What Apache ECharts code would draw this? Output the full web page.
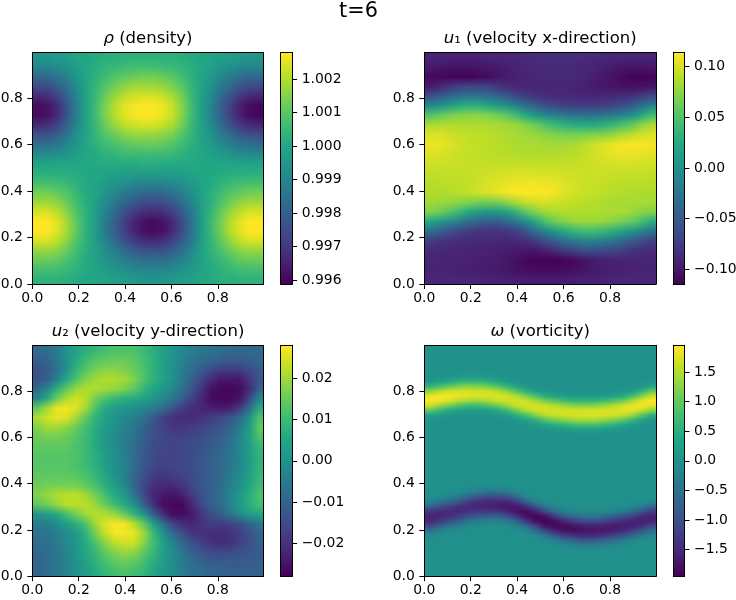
<!DOCTYPE html>
<html><head><meta charset="utf-8">
<style>html,body{margin:0;padding:0;background:#fff}#c{width:736px;height:600px}</style>
<script src="https://cdn.jsdelivr.net/npm/echarts@6/dist/echarts.min.js"></script>
</head><body><div id="c"></div>
<script>
// All field rows run from the top of the picture to the bottom, cells left to right.
const xTicks = [0, 0.2, 0.4, 0.6, 0.8];
const rhoTicks = [0.996, 0.997, 0.998, 0.999, 1.000, 1.001, 1.002];
const u1Ticks = [-0.10, -0.05, 0, 0.05, 0.10];
const u2Ticks = [-0.02, -0.01, 0, 0.01, 0.02];
const omegaTicks = [-1.5, -1.0, -0.5, 0, 0.5, 1.0, 1.5];
const rhoRange = [0.99588, 1.0028];
const u1Range = [-0.1145, 0.1142];
const u2Range = [-0.0279, 0.0279];
const omegaRange = [-1.95, 1.95];

const rhoRows = [
[.9995,.9995,.9996,.9997,.9999,1,1.0001,1.0002,1.0002,1.0003,1.0003,1.0003,1.0003,1.0003,1.0003,1.0002,1.0001,1,.9999,.9998,.9997,.9996,.9995,.9995],
[.9990,.9990,.9992,.9994,.9997,1,1.0002,1.0004,1.0005,1.0006,1.0007,1.0007,1.0007,1.0006,1.0005,1.0004,1.0002,1,.9998,.9995,.9993,.9991,.9990,.9990],
[.9982,.9983,.9985,.9989,.9995,.9999,1.0003,1.0006,1.0009,1.0011,1.0012,1.0013,1.0013,1.0012,1.0010,1.0007,1.0003,.9999,.9996,.9991,.9987,.9984,.9982,.9982],
[.9975,.9975,.9979,.9984,.9992,.9999,1.0004,1.0009,1.0013,1.0016,1.0018,1.0018,1.0018,1.0017,1.0014,1.0010,1.0004,.9999,.9994,.9987,.9982,.9977,.9975,.9974],
[.9967,.9968,.9972,.9980,.9990,.9998,1.0005,1.0012,1.0017,1.0021,1.0023,1.0024,1.0024,1.0022,1.0019,1.0013,1.0005,.9998,.9992,.9983,.9976,.9970,.9967,.9966],
[.9961,.9962,.9967,.9976,.9988,.9998,1.0006,1.0014,1.0020,1.0025,1.0027,1.0028,1.0028,1.0026,1.0022,1.0015,1.0006,.9998,.9990,.9980,.9972,.9965,.9961,.9960],
[.9961,.9962,.9967,.9976,.9988,.9998,1.0006,1.0014,1.0020,1.0025,1.0027,1.0028,1.0028,1.0026,1.0022,1.0015,1.0006,.9998,.9990,.9980,.9972,.9965,.9961,.9960],
[.9967,.9968,.9972,.9980,.9990,.9998,1.0005,1.0012,1.0017,1.0021,1.0023,1.0024,1.0024,1.0022,1.0019,1.0013,1.0005,.9998,.9992,.9983,.9976,.9970,.9967,.9966],
[.9976,.9976,.9980,.9985,.9993,.9999,1.0004,1.0009,1.0012,1.0015,1.0017,1.0017,1.0017,1.0016,1.0014,1.0009,1.0004,.9999,.9994,.9988,.9983,.9978,.9976,.9975],
[.9984,.9984,.9986,.9990,.9995,.9999,1.0003,1.0006,1.0008,1.0010,1.0011,1.0012,1.0012,1.0011,1.0009,1.0006,1.0003,.9999,.9996,.9992,.9988,.9985,.9984,.9983],
[.9991,.9992,.9993,.9995,.9997,1,1.0001,1.0003,1.0004,1.0006,1.0006,1.0006,1.0006,1.0006,1.0005,1.0003,1.0001,1,.9998,.9996,.9994,.9992,.9991,.9991],
[.9999,.9999,.9999,1,1,1.0001,1.0001,1.0001,1.0001,1.0001,1.0001,1.0002,1.0002,1.0001,1.0001,1.0001,1.0001,1,1,1,.9999,.9999,.9999,.9999],
[1.0002,1.0002,1.0002,1.0002,1.0001,1,1,.9999,.9998,.9998,.9997,.9997,.9997,.9997,.9997,.9998,.9999,1,1,1.0001,1.0002,1.0002,1.0002,1.0002],
[1.0007,1.0007,1.0006,1.0005,1.0003,1.0001,.9999,.9997,.9995,.9993,.9991,.9990,.9990,.9990,.9992,.9994,.9996,.9999,1.0001,1.0003,1.0005,1.0006,1.0007,1.0007],
[1.0013,1.0013,1.0011,1.0009,1.0005,1.0001,.9999,.9995,.9991,.9987,.9985,.9983,.9982,.9983,.9985,.9989,.9993,.9998,1.0002,1.0006,1.0009,1.0011,1.0013,1.0013],
[1.0018,1.0018,1.0016,1.0012,1.0007,1.0002,.9998,.9992,.9987,.9982,.9978,.9975,.9975,.9975,.9979,.9984,.9990,.9997,1.0003,1.0008,1.0013,1.0016,1.0018,1.0018],
[1.0024,1.0024,1.0021,1.0016,1.0009,1.0003,.9997,.9990,.9983,.9976,.9971,.9968,.9967,.9968,.9972,.9979,.9987,.9997,1.0004,1.0011,1.0017,1.0021,1.0024,1.0024],
[1.0028,1.0028,1.0025,1.0019,1.0011,1.0003,.9997,.9988,.9980,.9972,.9966,.9962,.9961,.9962,.9967,.9975,.9985,.9996,1.0005,1.0013,1.0020,1.0025,1.0028,1.0028],
[1.0028,1.0028,1.0025,1.0019,1.0011,1.0003,.9997,.9988,.9980,.9972,.9966,.9962,.9961,.9962,.9967,.9975,.9985,.9996,1.0005,1.0013,1.0020,1.0025,1.0028,1.0028],
[1.0024,1.0024,1.0021,1.0016,1.0009,1.0003,.9997,.9990,.9983,.9976,.9971,.9968,.9967,.9968,.9972,.9979,.9987,.9997,1.0004,1.0011,1.0017,1.0021,1.0024,1.0024],
[1.0017,1.0017,1.0016,1.0012,1.0007,1.0002,.9998,.9993,.9988,.9983,.9979,.9976,.9976,.9976,.9980,.9984,.9991,.9998,1.0003,1.0008,1.0012,1.0016,1.0017,1.0017],
[1.0012,1.0012,1.0011,1.0008,1.0005,1.0001,.9999,.9995,.9992,.9988,.9986,.9984,.9984,.9984,.9986,.9989,.9994,.9998,1.0002,1.0005,1.0008,1.0011,1.0012,1.0012],
[1.0007,1.0007,1.0006,1.0005,1.0003,1.0001,.9999,.9997,.9995,.9993,.9991,.9990,.9990,.9990,.9992,.9994,.9996,.9999,1.0001,1.0003,1.0005,1.0006,1.0007,1.0007],
[1.0003,1.0003,1.0003,1.0002,1.0001,1,1,.9999,.9998,.9997,.9996,.9995,.9995,.9995,.9996,.9997,.9998,1,1.0001,1.0002,1.0002,1.0003,1.0003,1.0003]
];

const u1Rows = [
[-.092,-.092,-.092,-.092,-.092,-.092,-.091,-.09,-.089,-.088,-.087,-.086,-.085,-.085,-.085,-.086,-.086,-.087,-.088,-.089,-.09,-.09,-.091,-.091],
[-.098,-.1,-.102,-.103,-.103,-.102,-.1,-.098,-.095,-.092,-.09,-.088,-.087,-.087,-.087,-.088,-.09,-.092,-.095,-.098,-.1,-.102,-.102,-.1],
[-.108,-.11,-.112,-.113,-.113,-.11,-.107,-.103,-.098,-.094,-.091,-.089,-.088,-.088,-.088,-.089,-.091,-.094,-.098,-.103,-.108,-.112,-.113,-.111],
[-.098,-.09,-.08,-.072,-.068,-.068,-.07,-.078,-.085,-.09,-.09,-.09,-.09,-.09,-.09,-.092,-.094,-.098,-.1,-.102,-.105,-.105,-.105,-.102],
[-.06,-.05,-.04,-.03,-.026,-.026,-.03,-.04,-.052,-.066,-.074,-.08,-.085,-.087,-.088,-.089,-.09,-.09,-.09,-.088,-.086,-.082,-.074,-.065],
[-.006,0,.012,.024,.03,.03,.024,.012,0,-.015,-.03,-.045,-.059,-.065,-.07,-.072,-.073,-.073,-.071,-.067,-.06,-.05,-.03,-.014],
[.052,.058,.066,.071,.074,.074,.071,.066,.056,.042,.024,.006,-.007,-.015,-.02,-.026,-.028,-.028,-.023,-.018,-.01,0,.024,.044],
[.085,.087,.088,.087,.087,.087,.086,.084,.082,.079,.072,.062,.05,.04,.032,.028,.026,.026,.03,.038,.048,.058,.075,.086],
[.102,.102,.098,.095,.093,.091,.09,.088,.086,.084,.082,.078,.074,.07,.068,.066,.068,.07,.072,.078,.085,.092,.098,.102],
[.108,.107,.103,.098,.095,.093,.091,.09,.088,.086,.085,.084,.083,.082,.083,.085,.09,.096,.103,.108,.111,.112,.112,.11],
[.103,.102,.099,.096,.094,.092,.091,.09,.089,.088,.087,.087,.087,.087,.088,.09,.093,.098,.102,.106,.108,.108,.107,.105],
[.097,.097,.096,.095,.094,.094,.094,.094,.094,.094,.094,.093,.093,.093,.093,.094,.095,.097,.099,.1,.101,.1,.099,.098],
[.093,.093,.093,.093,.094,.095,.097,.099,.1,.101,.101,.101,.1,.099,.098,.097,.096,.096,.096,.095,.095,.094,.094,.093],
[.09,.09,.091,.092,.094,.097,.101,.104,.107,.109,.11,.11,.109,.107,.103,.1,.097,.095,.094,.092,.091,.09,.09,.09],
[.087,.087,.088,.09,.093,.097,.102,.107,.11,.113,.114,.114,.113,.11,.104,.099,.096,.093,.091,.089,.088,.087,.086,.086],
[.082,.08,.078,.075,.07,.066,.064,.066,.074,.085,.093,.098,.1,.098,.095,.092,.09,.088,.086,.085,.084,.084,.084,.083],
[.07,.064,.054,.042,.024,.013,.007,.006,.015,.034,.056,.072,.082,.086,.088,.088,.087,.086,.086,.085,.084,.08,.073,.072],
[.024,.009,-.004,-.015,-.03,-.04,-.046,-.047,-.038,-.022,-.002,.024,.048,.063,.072,.077,.08,.08,.077,.073,.067,.06,.046,.027],
[-.03,-.044,-.056,-.066,-.074,-.078,-.08,-.08,-.077,-.07,-.054,-.03,-.01,.007,.024,.036,.043,.043,.037,.028,.016,.002,-.012,-.028],
[-.074,-.079,-.083,-.085,-.087,-.088,-.088,-.089,-.09,-.088,-.084,-.075,-.06,-.044,-.03,-.02,-.014,-.014,-.018,-.026,-.036,-.049,-.061,-.072],
[-.088,-.089,-.09,-.091,-.092,-.092,-.093,-.094,-.096,-.098,-.1,-.1,-.094,-.086,-.076,-.068,-.062,-.06,-.062,-.068,-.074,-.08,-.084,-.086],
[-.091,-.091,-.092,-.092,-.093,-.094,-.095,-.097,-.1,-.105,-.11,-.113,-.114,-.114,-.112,-.108,-.102,-.097,-.094,-.092,-.091,-.09,-.09,-.09],
[-.092,-.093,-.093,-.094,-.095,-.096,-.097,-.099,-.101,-.104,-.106,-.107,-.108,-.108,-.107,-.105,-.102,-.099,-.097,-.095,-.094,-.093,-.092,-.092],
[-.09,-.09,-.09,-.09,-.091,-.091,-.092,-.093,-.094,-.095,-.096,-.096,-.096,-.096,-.096,-.095,-.094,-.093,-.092,-.091,-.09,-.09,-.09,-.09]
];

const u2Rows = [
[-.009,-.008,-.005,0,.004,.007,.009,.011,.012,.012,.012,.01,.007,.004,.001,-.002,-.004,-.006,-.007,-.008,-.009,-.009,-.009,-.009],
[-.011,-.01,-.006,0,.006,.01,.013,.014,.015,.015,.014,.011,.008,.004,.001,-.003,-.006,-.008,-.009,-.011,-.012,-.012,-.011,-.01],
[-.014,-.012,-.007,0,.008,.013,.016,.018,.018,.017,.015,.012,.008,.004,0,-.004,-.008,-.012,-.015,-.018,-.018,-.018,-.015,-.012],
[-.014,-.011,-.004,.005,.012,.017,.02,.021,.021,.02,.017,.012,.008,.004,0,-.005,-.01,-.016,-.021,-.024,-.024,-.024,-.019,-.013],
[-.009,-.002,.007,.014,.019,.021,.021,.02,.019,.017,.014,.009,.005,.002,-.002,-.007,-.013,-.019,-.025,-.027,-.027,-.026,-.021,-.011],
[-.003,.006,.015,.021,.024,.022,.016,.012,.009,.007,.006,.004,.001,-.002,-.006,-.011,-.017,-.022,-.026,-.027,-.027,-.025,-.016,-.003],
[.014,.02,.026,.027,.025,.02,.012,.006,.003,.001,0,-.002,-.005,-.008,-.013,-.018,-.021,-.022,-.023,-.024,-.023,-.018,-.008,.006],
[.021,.024,.026,.025,.02,.014,.008,.004,.001,-.002,-.004,-.007,-.012,-.017,-.02,-.021,-.021,-.02,-.018,-.016,-.013,-.008,0,.012],
[.017,.02,.02,.018,.015,.011,.007,.003,0,-.003,-.006,-.01,-.014,-.017,-.019,-.019,-.018,-.017,-.015,-.013,-.01,-.005,.003,.014],
[.015,.016,.016,.015,.013,.01,.006,.002,-.001,-.004,-.007,-.011,-.014,-.016,-.017,-.017,-.016,-.015,-.013,-.011,-.008,-.003,.004,.012],
[.014,.014,.014,.014,.012,.01,.006,.002,-.001,-.004,-.008,-.012,-.015,-.016,-.017,-.016,-.015,-.014,-.012,-.01,-.007,-.002,.003,.009],
[.013,.013,.013,.013,.012,.01,.007,.003,0,-.004,-.008,-.012,-.015,-.017,-.017,-.016,-.015,-.013,-.011,-.009,-.006,-.002,.003,.008],
[.013,.013,.013,.013,.012,.01,.007,.004,0,-.003,-.008,-.013,-.016,-.017,-.017,-.016,-.015,-.013,-.011,-.009,-.006,-.002,.003,.008],
[.014,.014,.014,.014,.013,.012,.009,.005,.001,-.003,-.009,-.014,-.018,-.019,-.018,-.017,-.015,-.013,-.011,-.009,-.005,-.001,.004,.009],
[.015,.016,.016,.016,.016,.014,.011,.007,.003,-.002,-.009,-.016,-.02,-.021,-.021,-.019,-.016,-.013,-.011,-.008,-.004,0,.005,.01],
[.017,.019,.021,.022,.022,.02,.016,.011,.006,.002,-.006,-.015,-.022,-.024,-.025,-.023,-.018,-.014,-.011,-.008,-.003,.002,.007,.012],
[.014,.016,.019,.022,.022,.022,.019,.015,.01,.006,0,-.01,-.02,-.026,-.027,-.027,-.022,-.016,-.011,-.008,-.003,.002,.007,.011],
[.001,.003,.006,.011,.016,.02,.022,.021,.019,.015,.008,.001,-.01,-.02,-.026,-.026,-.024,-.019,-.015,-.011,-.006,-.001,.003,.005],
[-.005,-.004,-.001,.003,.007,.012,.02,.025,.027,.027,.022,.014,.004,-.007,-.016,-.021,-.022,-.02,-.018,-.018,-.017,-.014,-.01,-.006],
[-.007,-.006,-.004,-.001,.002,.008,.016,.023,.027,.027,.026,.02,.01,.001,-.008,-.014,-.019,-.02,-.021,-.021,-.02,-.018,-.014,-.01],
[-.008,-.007,-.005,-.002,.002,.006,.012,.018,.022,.024,.024,.018,.011,.004,-.003,-.009,-.014,-.017,-.02,-.021,-.02,-.017,-.014,-.011],
[-.009,-.008,-.006,-.003,.001,.005,.009,.014,.017,.019,.018,.014,.009,.004,-.001,-.006,-.01,-.013,-.015,-.016,-.015,-.014,-.013,-.012],
[-.01,-.008,-.006,-.003,0,.004,.008,.011,.014,.015,.014,.011,.007,.003,-.001,-.005,-.008,-.01,-.012,-.012,-.012,-.012,-.012,-.011],
[-.01,-.008,-.006,-.003,0,.003,.006,.009,.011,.012,.011,.009,.005,.002,-.001,-.004,-.007,-.008,-.01,-.01,-.011,-.011,-.011,-.01]
];

const omegaRows = [
[0,0,0,0,0,0,0,0,0,0,0,0,0,0,0,0,0,0,0,0,0,0,0,0],
[0,0,0,0,0,0,0,0,0,0,0,0,0,0,0,0,0,0,0,0,0,0,0,0],
[0,0,0,0,0,0,0,0,0,0,0,0,0,0,0,0,0,0,0,0,0,0,0,0],
[0,0,0,0,0,0,0,0,0,0,0,0,0,0,0,0,0,0,0,0,0,0,0,0],
[0,0,0,0,0,0,0,0,0,0,0,0,0,0,0,0,0,0,0,0,0,0,0,0],
[0,0,.01,.02,.03,.03,.02,.01,0,0,0,0,0,0,0,0,0,0,0,0,0,0,0,0],
[0,.03,.07,.12,.15,.15,.12,.07,.02,0,0,0,0,0,0,0,0,0,0,0,0,0,0,0],
[.11,.2,.35,.52,.6,.6,.52,.35,.16,.05,.01,0,0,0,0,0,0,0,0,0,0,0,.01,.06],
[.55,.75,1,1.15,1.25,1.2,1.1,.9,.62,.3,.12,.04,0,0,0,0,0,0,0,0,0,.03,.12,.35],
[1.25,1.5,1.65,1.7,1.72,1.68,1.65,1.55,1.27,.88,.52,.24,.1,.06,.03,.01,.01,.01,.02,.05,.09,.2,.55,1],
[1.85,1.92,1.9,1.83,1.78,1.73,1.73,1.75,1.68,1.5,1.15,.78,.48,.3,.2,.15,.14,.14,.18,.26,.42,.72,1.2,1.65],
[1.93,1.88,1.75,1.52,1.4,1.35,1.45,1.6,1.68,1.7,1.65,1.42,1.1,.88,.72,.6,.58,.6,.68,.82,1.05,1.4,1.8,1.95],
[1.65,1.35,1.1,.85,.72,.72,.8,1.05,1.35,1.6,1.7,1.7,1.62,1.48,1.35,1.25,1.22,1.25,1.33,1.5,1.68,1.82,1.88,1.8],
[.95,.7,.45,.28,.2,.2,.26,.42,.68,1.1,1.45,1.65,1.7,1.7,1.7,1.68,1.7,1.72,1.72,1.75,1.8,1.78,1.6,1.25],
[.33,.18,.09,.05,.03,.03,.05,.08,.18,.48,.8,1.2,1.5,1.62,1.68,1.7,1.72,1.74,1.72,1.68,1.6,1.35,.9,.5],
[.07,.02,0,0,0,0,0,0,.03,.1,.26,.55,.88,1.1,1.25,1.38,1.42,1.42,1.33,1.18,.95,.65,.28,.1],
[0,0,0,0,0,0,0,0,0,0,.05,.13,.3,.48,.6,.72,.75,.75,.66,.52,.36,.18,.05,0],
[0,0,0,0,0,0,0,0,0,0,0,.01,.06,.1,.15,.2,.22,.22,.18,.12,.07,.02,0,0],
[0,0,0,0,0,0,0,0,0,0,0,0,0,0,.01,.03,.04,.04,.03,.01,0,0,0,0],
[0,0,0,0,0,0,0,0,0,0,0,0,0,0,0,0,0,0,0,0,0,0,0,0],
[0,0,0,0,0,0,0,0,0,0,0,0,0,0,0,0,0,0,0,0,0,0,0,0],
[0,0,0,0,0,0,0,0,0,0,0,0,0,0,0,0,0,0,0,0,0,0,0,0],
[0,0,0,0,0,0,0,0,0,0,0,0,0,0,0,0,0,0,0,0,0,0,0,0],
[0,0,0,0,0,0,0,0,0,0,0,0,0,0,0,0,0,0,0,0,0,0,0,0],
[0,0,0,0,0,0,0,0,0,0,0,0,0,0,0,0,0,0,0,0,0,0,0,0],
[0,0,0,0,0,0,0,0,0,0,0,0,0,0,0,0,0,0,0,0,0,0,0,0],
[0,0,0,0,0,0,0,0,0,0,0,0,0,0,0,0,0,0,0,0,0,0,0,0],
[0,0,0,0,0,0,0,0,0,0,0,0,0,0,0,0,0,0,0,0,0,0,0,0],
[0,0,0,0,0,0,0,0,0,0,0,0,0,0,0,0,0,0,0,0,0,0,0,0],
[0,0,0,0,-.04,-.08,-.12,-.13,-.08,-.02,0,0,0,0,0,0,0,0,0,0,0,0,0,0],
[0,0,-.03,-.09,-.22,-.38,-.48,-.52,-.4,-.17,-.03,0,0,0,0,0,0,0,0,0,0,0,0,0],
[-.03,-.1,-.2,-.4,-.7,-.93,-1.05,-1.1,-1,-.65,-.24,-.05,0,0,0,0,0,0,0,0,0,0,0,0],
[-.25,-.45,-.66,-.93,-1.25,-1.42,-1.5,-1.55,-1.55,-1.3,-.76,-.28,-.08,-.01,0,0,0,0,0,0,0,-.01,-.04,-.12],
[-.75,-1,-1.22,-1.4,-1.5,-1.55,-1.58,-1.63,-1.7,-1.7,-1.45,-.95,-.42,-.15,-.05,-.01,0,0,-.01,-.03,-.07,-.15,-.35,-.7],
[-1.35,-1.45,-1.48,-1.5,-1.4,-1.33,-1.3,-1.3,-1.5,-1.72,-1.83,-1.55,-1.05,-.58,-.28,-.16,-.09,-.09,-.14,-.2,-.36,-.58,-.92,-1.28],
[-1.58,-1.53,-1.42,-1.28,-1,-.85,-.75,-.72,-.95,-1.35,-1.8,-1.9,-1.75,-1.25,-.85,-.6,-.45,-.45,-.55,-.7,-.95,-1.2,-1.45,-1.58],
[-1.52,-1.3,-1.05,-.8,-.48,-.33,-.22,-.2,-.35,-.72,-1.3,-1.8,-1.95,-1.78,-1.5,-1.2,-1.05,-1.03,-1.12,-1.3,-1.45,-1.58,-1.6,-1.55],
[-1.1,-.8,-.5,-.27,-.1,-.06,-.04,-.03,-.08,-.22,-.6,-1.2,-1.75,-1.88,-1.83,-1.75,-1.62,-1.58,-1.6,-1.66,-1.65,-1.6,-1.45,-1.1],
[-.5,-.28,-.13,-.05,-.01,0,0,0,0,-.03,-.15,-.55,-1.15,-1.55,-1.75,-1.78,-1.75,-1.72,-1.68,-1.62,-1.48,-1.25,-.9,-.55],
[-.12,-.04,-.01,0,0,0,0,0,0,0,-.02,-.12,-.45,-.9,-1.25,-1.4,-1.5,-1.48,-1.38,-1.2,-.95,-.63,-.38,-.14],
[-.01,0,0,0,0,0,0,0,0,0,0,-.01,-.1,-.3,-.55,-.75,-.9,-.85,-.72,-.55,-.38,-.18,-.07,-.01],
[0,0,0,0,0,0,0,0,0,0,0,0,0,-.04,-.12,-.23,-.33,-.3,-.22,-.15,-.08,-.02,0,0],
[0,0,0,0,0,0,0,0,0,0,0,0,0,0,-.01,-.03,-.05,-.05,-.03,-.01,0,0,0,0],
[0,0,0,0,0,0,0,0,0,0,0,0,0,0,0,0,0,0,0,0,0,0,0,0],
[0,0,0,0,0,0,0,0,0,0,0,0,0,0,0,0,0,0,0,0,0,0,0,0],
[0,0,0,0,0,0,0,0,0,0,0,0,0,0,0,0,0,0,0,0,0,0,0,0],
[0,0,0,0,0,0,0,0,0,0,0,0,0,0,0,0,0,0,0,0,0,0,0,0],
[0,0,0,0,0,0,0,0,0,0,0,0,0,0,0,0,0,0,0,0,0,0,0,0]
];

const FONT = '"DejaVu Sans"';
const TICK = 13.9, TITLE = 16.5;
const AXIS_MAX = 0.998;
const viridis = ['#440154','#482475','#414487','#355f8d','#2a788e','#21918c','#22a884','#44bf70','#7ad151','#bddf26','#fde725'];
const minus = s => s.replace('-', '\u2212');

const panels = [
  {title:'{i|\u03c1} (density)', rows:rhoRows, range:rhoRange, ticks:rhoTicks, dec:3, box:[32.3,52.3,231.4,231.7], bar:[280.7,11.5]},
  {title:'{i|u}\u2081 (velocity x-direction)', rows:u1Rows, range:u1Range, ticks:u1Ticks, dec:2, box:[424.3,52.3,231.7,231.7], bar:[673.3,11.3]},
  {title:'{i|u}\u2082 (velocity y-direction)', rows:u2Rows, range:u2Range, ticks:u2Ticks, dec:2, box:[32.3,345.3,231.4,231], bar:[280.7,11.5]},
  {title:'{i|\u03c9} (vorticity)', rows:omegaRows, range:omegaRange, ticks:omegaTicks, dec:1, box:[424.3,345.3,231.7,231], bar:[673.3,11.3]}
];

const grid=[], xAxis=[], yAxis=[], series=[], visualMap=[];
const title=[{text:'t=6', left:358.5, top:1, padding:0, textAlign:'center', textStyle:{fontFamily:FONT,fontSize:20.8,fontWeight:'normal',color:'#000'}}];

function frameAxis(extra){
  return Object.assign({type:'value', min:0, max:1, z:5, splitLine:{show:false}, axisTick:{show:false}, axisLabel:{show:false},
    axisLine:{show:true, onZero:false, lineStyle:{color:'#000',width:1}}}, extra);
}
function tickAxis(extra, ticks, fmt, margin){
  return Object.assign({type:'value', z:5, splitLine:{show:false},
    axisLine:{show:true, onZero:false, lineStyle:{color:'#000',width:1}},
    axisTick:{show:true, length:4.9, lineStyle:{color:'#000',width:1}, customValues:ticks},
    axisLabel:{show:true, margin:margin, color:'#000', fontFamily:FONT, fontSize:TICK, customValues:ticks, formatter:fmt}}, extra);
}

// Each data cell paints one pixel of an image, through the visualMap colour, and the
// image is then placed on the axes by api.coord, the way imshow shows an array.
function imageRenderer(nc, nr){
  const canvas=document.createElement('canvas');
  canvas.width=nc; canvas.height=nr;
  const ctx=canvas.getContext('2d');
  return function(params, api){
    const idx=params.dataIndex;
    ctx.fillStyle=api.visual('color');
    ctx.fillRect(idx%nc, Math.floor(idx/nc), 1, 1);
    if(idx!==nc*nr-1) return null;
    const tl=api.coord([0, AXIS_MAX]);
    const br=api.coord([AXIS_MAX, 0]);
    return {type:'image', style:{image:canvas, x:tl[0], y:tl[1], width:br[0]-tl[0], height:br[1]-tl[1]}};
  };
}
function barItem(params, api){
  const tl = api.coord([0, api.value(1)]);
  const br = api.coord([1, api.value(0)]);
  const stops = viridis.map((c,i)=>({offset:1-i/(viridis.length-1), color:c})).reverse();
  return {type:'rect', shape:{x:tl[0], y:tl[1], width:br[0]-tl[0], height:br[1]-tl[1]},
    style:{fill:new echarts.graphic.LinearGradient(0,0,0,1,stops)}};
}

panels.forEach(p=>{
  const [l,t,w,h]=p.box, g=grid.length;
  grid.push({left:l, top:t, width:w, height:h, containLabel:false, outerBoundsMode:'none'});
  const a=xAxis.length, b=yAxis.length;
  const f1=v=>Number(v).toFixed(1);
  xAxis.push(tickAxis({gridIndex:g, position:'bottom', min:0, max:AXIS_MAX}, xTicks, f1, 7));
  xAxis.push(frameAxis({gridIndex:g, position:'top', max:AXIS_MAX}));
  yAxis.push(tickAxis({gridIndex:g, position:'left', min:0, max:AXIS_MAX}, xTicks, f1, 9.5));
  yAxis.push(frameAxis({gridIndex:g, position:'right', max:AXIS_MAX}));
  const nr=p.rows.length, nc=p.rows[0].length, cells=[];
  p.rows.forEach((row,j)=>row.forEach((v,i)=>{
    cells.push([(i+0.5)/nc*AXIS_MAX,(nr-j-0.5)/nr*AXIS_MAX,v]);
  }));
  visualMap.push({show:false, type:'continuous', seriesIndex:series.length, dimension:2, min:p.range[0], max:p.range[1], inRange:{color:viridis}});
  series.push({type:'custom', xAxisIndex:a, yAxisIndex:b, renderItem:imageRenderer(nc,nr), data:cells, clip:true, z:2, silent:true, progressive:0, animation:false,
    encode:{x:0, y:1}});
  title.push({text:p.title, left:l+w/2, top:t-22, padding:0, textAlign:'center', textStyle:{fontFamily:FONT,fontSize:TITLE,fontWeight:'normal',color:'#000',
    rich:{i:{fontFamily:FONT,fontStyle:'italic',fontSize:TITLE,color:'#000'}}}});
  // colour bar
  const gb=grid.length;
  grid.push({left:p.bar[0], top:t, width:p.bar[1], height:h, containLabel:false, outerBoundsMode:'none'});
  const c=xAxis.length, d=yAxis.length;
  xAxis.push(frameAxis({gridIndex:gb, position:'bottom'}));
  xAxis.push(frameAxis({gridIndex:gb, position:'top'}));
  yAxis.push(tickAxis({gridIndex:gb, position:'right', min:p.range[0], max:p.range[1]}, p.ticks, v=>minus(Number(v).toFixed(p.dec)), 9.5));
  yAxis.push(frameAxis({gridIndex:gb, position:'left', min:p.range[0], max:p.range[1]}));
  series.push({type:'custom', xAxisIndex:c, yAxisIndex:d, renderItem:barItem, data:[p.range], z:2, silent:true, animation:false, encode:{y:[0,1]}});
});

const chart=echarts.init(document.getElementById('c'),null,{renderer:'canvas'});
chart.setOption({animation:false, backgroundColor:'#fff', title, grid, xAxis, yAxis, visualMap, series, tooltip:{show:false}});
</script></body></html>
